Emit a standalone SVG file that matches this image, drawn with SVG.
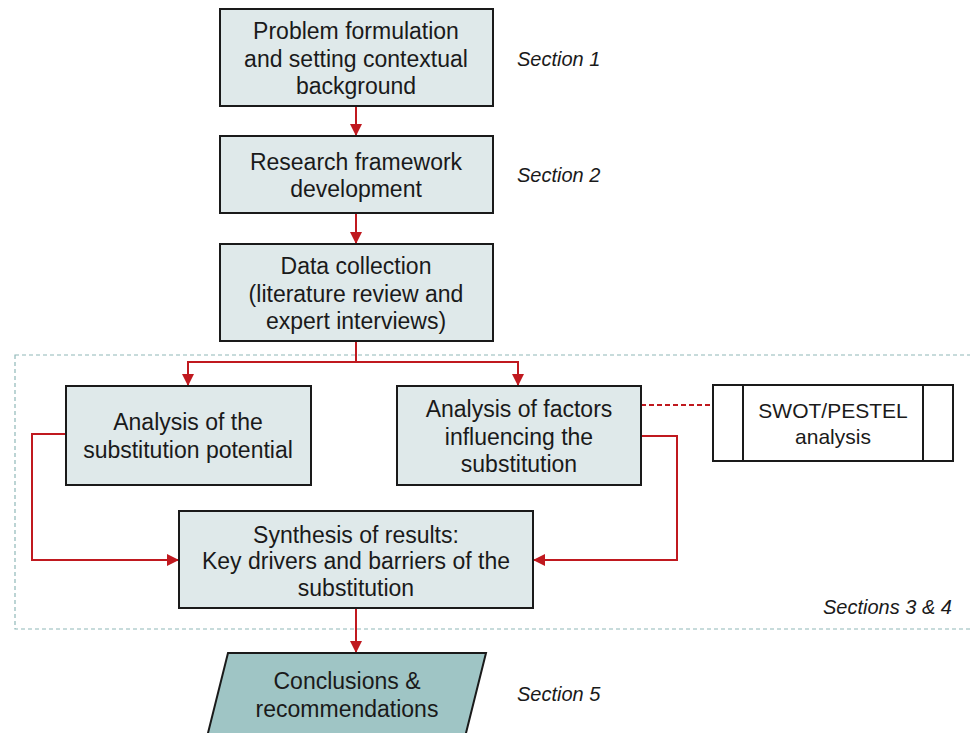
<svg xmlns="http://www.w3.org/2000/svg" width="970" height="733" viewBox="0 0 970 733">
<style>
.box{fill:#dfe9ea;stroke:#1a1a1a;stroke-width:2}
.t{font-family:"Liberation Sans",Arial,sans-serif;font-size:23px;fill:#1a1a1a;text-anchor:middle}
.s{font-family:"Liberation Sans",Arial,sans-serif;font-size:20px;font-style:italic;fill:#1a1a1a}
.c{fill:none;stroke:#c0191f;stroke-width:2}
</style>
<defs>
<marker id="ah" viewBox="0 0 10 10" refX="10" refY="5" markerWidth="12" markerHeight="12" markerUnits="userSpaceOnUse" orient="auto">
<path d="M0,0 L10,5 L0,10 z" fill="#c0191f"/>
</marker>
</defs>
<rect x="15" y="355" width="960" height="274" fill="none" stroke="#8fb8b8" stroke-width="1.2" stroke-dasharray="4,3"/>
<g id="connectors">
<path class="c" d="M356,106 V136" marker-end="url(#ah)"/>
<path class="c" d="M356,213 V244" marker-end="url(#ah)"/>
<path class="c" d="M356,341 V362 H188 V386" marker-end="url(#ah)"/>
<path class="c" d="M356,362 H518 V386" marker-end="url(#ah)"/>
<path class="c" d="M66,434 H32 V560 H179" marker-end="url(#ah)"/>
<path class="c" d="M641,436 H677 V560 H533" marker-end="url(#ah)"/>
<path class="c" d="M356,608 V653" marker-end="url(#ah)"/>
<path class="c" d="M641,405 H713" stroke-dasharray="5,3"/>
</g>
<g id="n1"><rect class="box" x="220" y="9" width="273" height="97"/>
<text class="t" x="356" y="39">Problem formulation</text><text class="t" x="356" y="67">and setting contextual</text><text class="t" x="356" y="94">background</text></g>
<g id="n2"><rect class="box" x="220" y="136" width="273" height="77"/>
<text class="t" x="356" y="170">Research framework</text><text class="t" x="356" y="197">development</text></g>
<g id="n3"><rect class="box" x="220" y="244" width="273" height="97"/>
<text class="t" x="356" y="274">Data collection</text><text class="t" x="356" y="302">(literature review and</text><text class="t" x="356" y="329">expert interviews)</text></g>
<g id="n4"><rect class="box" x="66" y="386" width="245" height="99"/>
<text class="t" x="188" y="430">Analysis of the</text><text class="t" x="188" y="458">substitution potential</text></g>
<g id="n5"><rect class="box" x="397" y="386" width="244" height="99"/>
<text class="t" x="519" y="417">Analysis of factors</text><text class="t" x="519" y="445">influencing the</text><text class="t" x="519" y="472">substitution</text></g>
<g id="n6"><rect x="713" y="385" width="240" height="76" fill="#fff" stroke="#1a1a1a" stroke-width="2"/>
<line x1="743" y1="385" x2="743" y2="461" stroke="#1a1a1a" stroke-width="2"/>
<line x1="923" y1="385" x2="923" y2="461" stroke="#1a1a1a" stroke-width="2"/>
<text class="t" x="833" y="418" style="font-size:21px">SWOT/PESTEL</text><text class="t" x="833" y="444" style="font-size:21px">analysis</text></g>
<g id="n7"><rect class="box" x="179" y="511" width="354" height="97"/>
<text class="t" x="356" y="543">Synthesis of results:</text><text class="t" x="356" y="569">Key drivers and barriers of the</text><text class="t" x="356" y="596">substitution</text></g>
<g id="n8"><polygon points="228,653 486,653 462,749 204,749" fill="#9fc5c5" stroke="#1a1a1a" stroke-width="2"/>
<text class="t" x="347" y="689">Conclusions &amp;</text><text class="t" x="347" y="717">recommendations</text></g>
<g id="labels">
<text class="s" x="517" y="66">Section 1</text>
<text class="s" x="517" y="182">Section 2</text>
<text class="s" x="823" y="614">Sections 3 &amp; 4</text>
<text class="s" x="517" y="701">Section 5</text>
</g>
</svg>
